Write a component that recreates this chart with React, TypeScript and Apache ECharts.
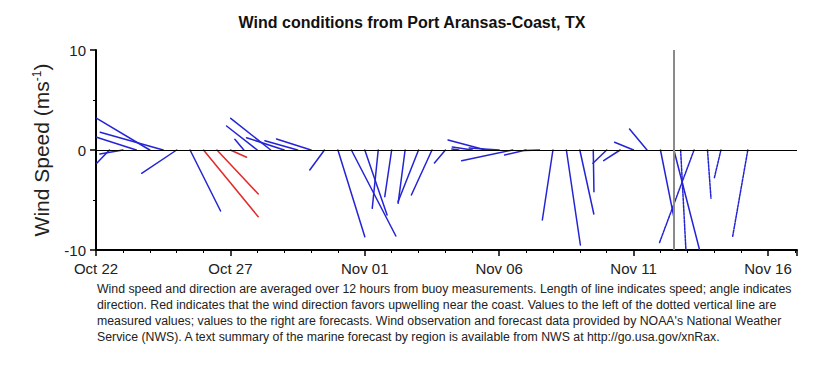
import React, { useEffect, useRef } from "react";
import * as echarts from "echarts";

// ---- data ----
const startTime = "2017-10-22T00:00:00Z";
const tickLabels = ["Oct 22", "Oct 27", "Nov 01", "Nov 06", "Nov 11", "Nov 16"];

// measured 12-hourly winds: time, u (east, m/s), v (north, m/s)
const obsTimes = [
  "2017-10-22T00:00:00Z", "2017-10-22T12:00:00Z", "2017-10-23T00:00:00Z", "2017-10-23T12:00:00Z",
  "2017-10-24T00:00:00Z", "2017-10-24T12:00:00Z", "2017-10-25T00:00:00Z", "2017-10-25T12:00:00Z",
  "2017-10-26T00:00:00Z", "2017-10-26T12:00:00Z", "2017-10-27T00:00:00Z", "2017-10-27T12:00:00Z",
  "2017-10-28T00:00:00Z", "2017-10-28T12:00:00Z", "2017-10-29T00:00:00Z", "2017-10-29T12:00:00Z",
  "2017-10-30T00:00:00Z", "2017-10-30T12:00:00Z", "2017-10-31T00:00:00Z", "2017-10-31T12:00:00Z",
  "2017-11-01T00:00:00Z", "2017-11-01T12:00:00Z", "2017-11-02T00:00:00Z", "2017-11-02T12:00:00Z",
  "2017-11-03T00:00:00Z", "2017-11-03T12:00:00Z", "2017-11-04T00:00:00Z", "2017-11-04T12:00:00Z",
  "2017-11-05T00:00:00Z", "2017-11-05T12:00:00Z", "2017-11-06T00:00:00Z", "2017-11-06T12:00:00Z",
  "2017-11-07T00:00:00Z", "2017-11-07T12:00:00Z", "2017-11-08T00:00:00Z", "2017-11-08T12:00:00Z",
  "2017-11-09T00:00:00Z", "2017-11-09T12:00:00Z", "2017-11-10T00:00:00Z", "2017-11-10T12:00:00Z",
  "2017-11-11T00:00:00Z", "2017-11-11T12:00:00Z", "2017-11-12T00:00:00Z", "2017-11-12T12:00:00Z",
];
const obsU = [
  -0.3, -1.27, -2.3, -3.97, -5.3, -6.3, -3.5, 3.05,
  5.47, 4.13, 1.62, -0.9, -3.07, -4.0, -3.76, -3.27,
  -3.45, -1.47, 2.69, 4.45, 2.23, -0.6, -0.69, -0.7,
  -2.05, -2.06, -1.1, -0.7, -2.0, -3.77, -3.0, -5.1,
  -2.14, -1.5, -1.06, 1.4, 1.4, 0.07, -1.38, -1.65,
  -1.9, -1.75, 1.33, 2.57,
];
const obsV = [
  0.2, -1.33, -0.4, 1.27, 3.17, 1.77, -2.33, -6.1,
  -6.67, -4.4, -0.73, 1.07, 2.4, 3.17, 1.23, 0.93,
  1.1, -2.0, -8.67, -8.6, -6.5, -5.83, -4.67, -5.33,
  -5.17, -4.5, -1.3, 0.1, 0.3, 1.0, 0.2, -1.07,
  -0.5, -0.05, -7.0, -9.5, -6.4, -4.17, -1.33, -1.07,
  0.77, 2.1, -6.67, -10.0,
];
// 1 = wind direction favours upwelling (drawn red)
const obsUpwelling = [
  0, 0, 0, 0, 0, 0, 0, 0,
  1, 1, 1, 0, 0, 0, 0, 0,
  0, 0, 0, 0, 0, 0, 0, 0,
  0, 0, 0, 0, 0, 0, 0, 0,
  0, 0, 0, 0, 0, 0, 0, 0,
  0, 0, 0, 0,
];

// forecast winds
const fcTimes = [
  "2017-11-12T18:00:00Z", "2017-11-13T06:00:00Z", "2017-11-13T18:00:00Z",
  "2017-11-14T06:00:00Z", "2017-11-15T06:00:00Z",
];
const fcU = [0.53, -3.48, 0.35, -0.67, -1.52];
const fcV = [-10.0, -9.33, -4.83, -2.83, -8.67];

const forecastStart = "2017-11-12T12:00:00Z";
const axisEndDays = 26.08;

const captionLines = [
  "Wind speed and direction are averaged over 12 hours from buoy measurements. Length of line indicates speed; angle indicates",
  "direction. Red indicates that the wind direction favors upwelling near the coast. Values to the left of the dotted vertical line are",
  "measured values; values to the right are forecasts. Wind observation and forecast data provided by NOAA's National Weather",
  "Service (NWS). A text summary of the marine forecast by region is available from NWS at http://go.usa.gov/xnRax.",
];

const FONT = "Liberation Sans, Arial, sans-serif";
const BLUE = "#2424d6";
const RED = "#e42a2a";

const toDays = (t: string) => (Date.parse(t) - Date.parse(startTime)) / 86400000;

function stickRenderer(color: string, dash: number[] | null) {
  return (params: any, api: any) => {
    const t = api.value(0);
    const u = api.value(1);
    const v = api.value(2);
    const base = api.coord([t, 0]);
    const tip = api.coord([t, v]);
    const pxPerUnit = Math.abs(api.size([0, 1])[1]);
    return {
      type: "line",
      shape: { x1: base[0], y1: base[1], x2: base[0] + u * pxPerUnit, y2: tip[1] },
      style: { stroke: color, lineWidth: 1.5, lineDash: dash || undefined, lineCap: "round" },
    };
  };
}

export default function App() {
  const ref = useRef<HTMLDivElement>(null);
  useEffect(() => {
    if (!ref.current) return;
    const chart = echarts.init(ref.current, null, { renderer: "svg" });
    const blueData: number[][] = [];
    const redData: number[][] = [];
    obsTimes.forEach((t, i) => {
      const row = [toDays(t), obsU[i], obsV[i]];
      (obsUpwelling[i] ? redData : blueData).push(row);
    });
    const fcData = fcTimes.map((t, i) => [toDays(t), fcU[i], fcV[i]]);

    chart.setOption({
      animation: false,
      grid: { left: 96, right: 21, top: 50, bottom: 130, outerBoundsMode: "none" },
      xAxis: {
        type: "value",
        min: 0,
        max: axisEndDays,
        interval: 5,
        axisLine: { show: true, onZero: false, lineStyle: { color: "#000", width: 2 } },
        axisTick: { show: true, length: 6, lineStyle: { color: "#000", width: 1.5 } },
        minorTick: { show: true, splitNumber: 5, length: 3, lineStyle: { color: "#000", width: 1 } },
        splitLine: { show: false },
        axisLabel: {
          margin: 11,
          fontSize: 15,
          fontFamily: FONT,
          color: "#222",
          showMaxLabel: false,
          formatter: (v: number) => {
            const k = v / 5;
            return Number.isInteger(k) && tickLabels[k] ? tickLabels[k] : "";
          },
        },
      },
      yAxis: {
        type: "value",
        min: -10,
        max: 10,
        interval: 10,
        name: "Wind Speed (ms{sup|-1})",
        nameLocation: "middle",
        nameRotate: 90,
        nameGap: 44,
        nameTextStyle: {
          fontSize: 21,
          fontFamily: FONT,
          color: "#222",
          rich: { sup: { fontSize: 12, verticalAlign: "top", fontFamily: FONT, color: "#222" } },
        },
        axisLine: { show: true, onZero: false, lineStyle: { color: "#000", width: 2 } },
        axisTick: { show: true, length: 6, lineStyle: { color: "#000", width: 1.5 } },
        minorTick: { show: true, splitNumber: 2, length: 3, lineStyle: { color: "#000", width: 1 } },
        splitLine: { show: false },
        axisLabel: { margin: 10, fontSize: 15, fontFamily: FONT, color: "#222" },
      },
      series: [
        {
          type: "custom",
          name: "measured",
          clip: true,
          renderItem: stickRenderer(BLUE, null),
          data: blueData,
          z: 3,
          markLine: {
            silent: true,
            symbol: "none",
            label: { show: false },
            data: [
              { yAxis: 0, lineStyle: { color: "#000", width: 1.2, type: "solid" } },
              { xAxis: toDays(forecastStart), lineStyle: { color: "#8a8a8a", width: 2, type: "solid" } },
            ],
          },
        },
        {
          type: "custom",
          name: "upwelling",
          clip: true,
          renderItem: stickRenderer(RED, null),
          data: redData,
          z: 3,
        },
        {
          type: "custom",
          name: "forecast",
          clip: true,
          renderItem: stickRenderer(BLUE, [2.5, 1.2]),
          data: fcData,
          z: 3,
        },
      ],
      graphic: [
        {
          type: "text",
          x: 412,
          y: 22,
          style: {
            text: "Wind conditions from Port Aransas-Coast, TX",
            font: `bold 16px ${FONT}`,
            fill: "#111",
            textAlign: "center",
            textVerticalAlign: "middle",
          },
        },
        {
          type: "text",
          x: 97,
          y: 281,
          style: {
            text: captionLines.join("\n"),
            font: `12.3px ${FONT}`,
            lineHeight: 16,
            fill: "#222",
            textAlign: "left",
            textVerticalAlign: "top",
          },
        },
      ],
    });
    return () => chart.dispose();
  }, []);
  return (
    <div
      ref={ref}
      style={{ position: "absolute", left: 0, top: 0, width: 818, height: 380, background: "#fff" }}
    />
  );
}
